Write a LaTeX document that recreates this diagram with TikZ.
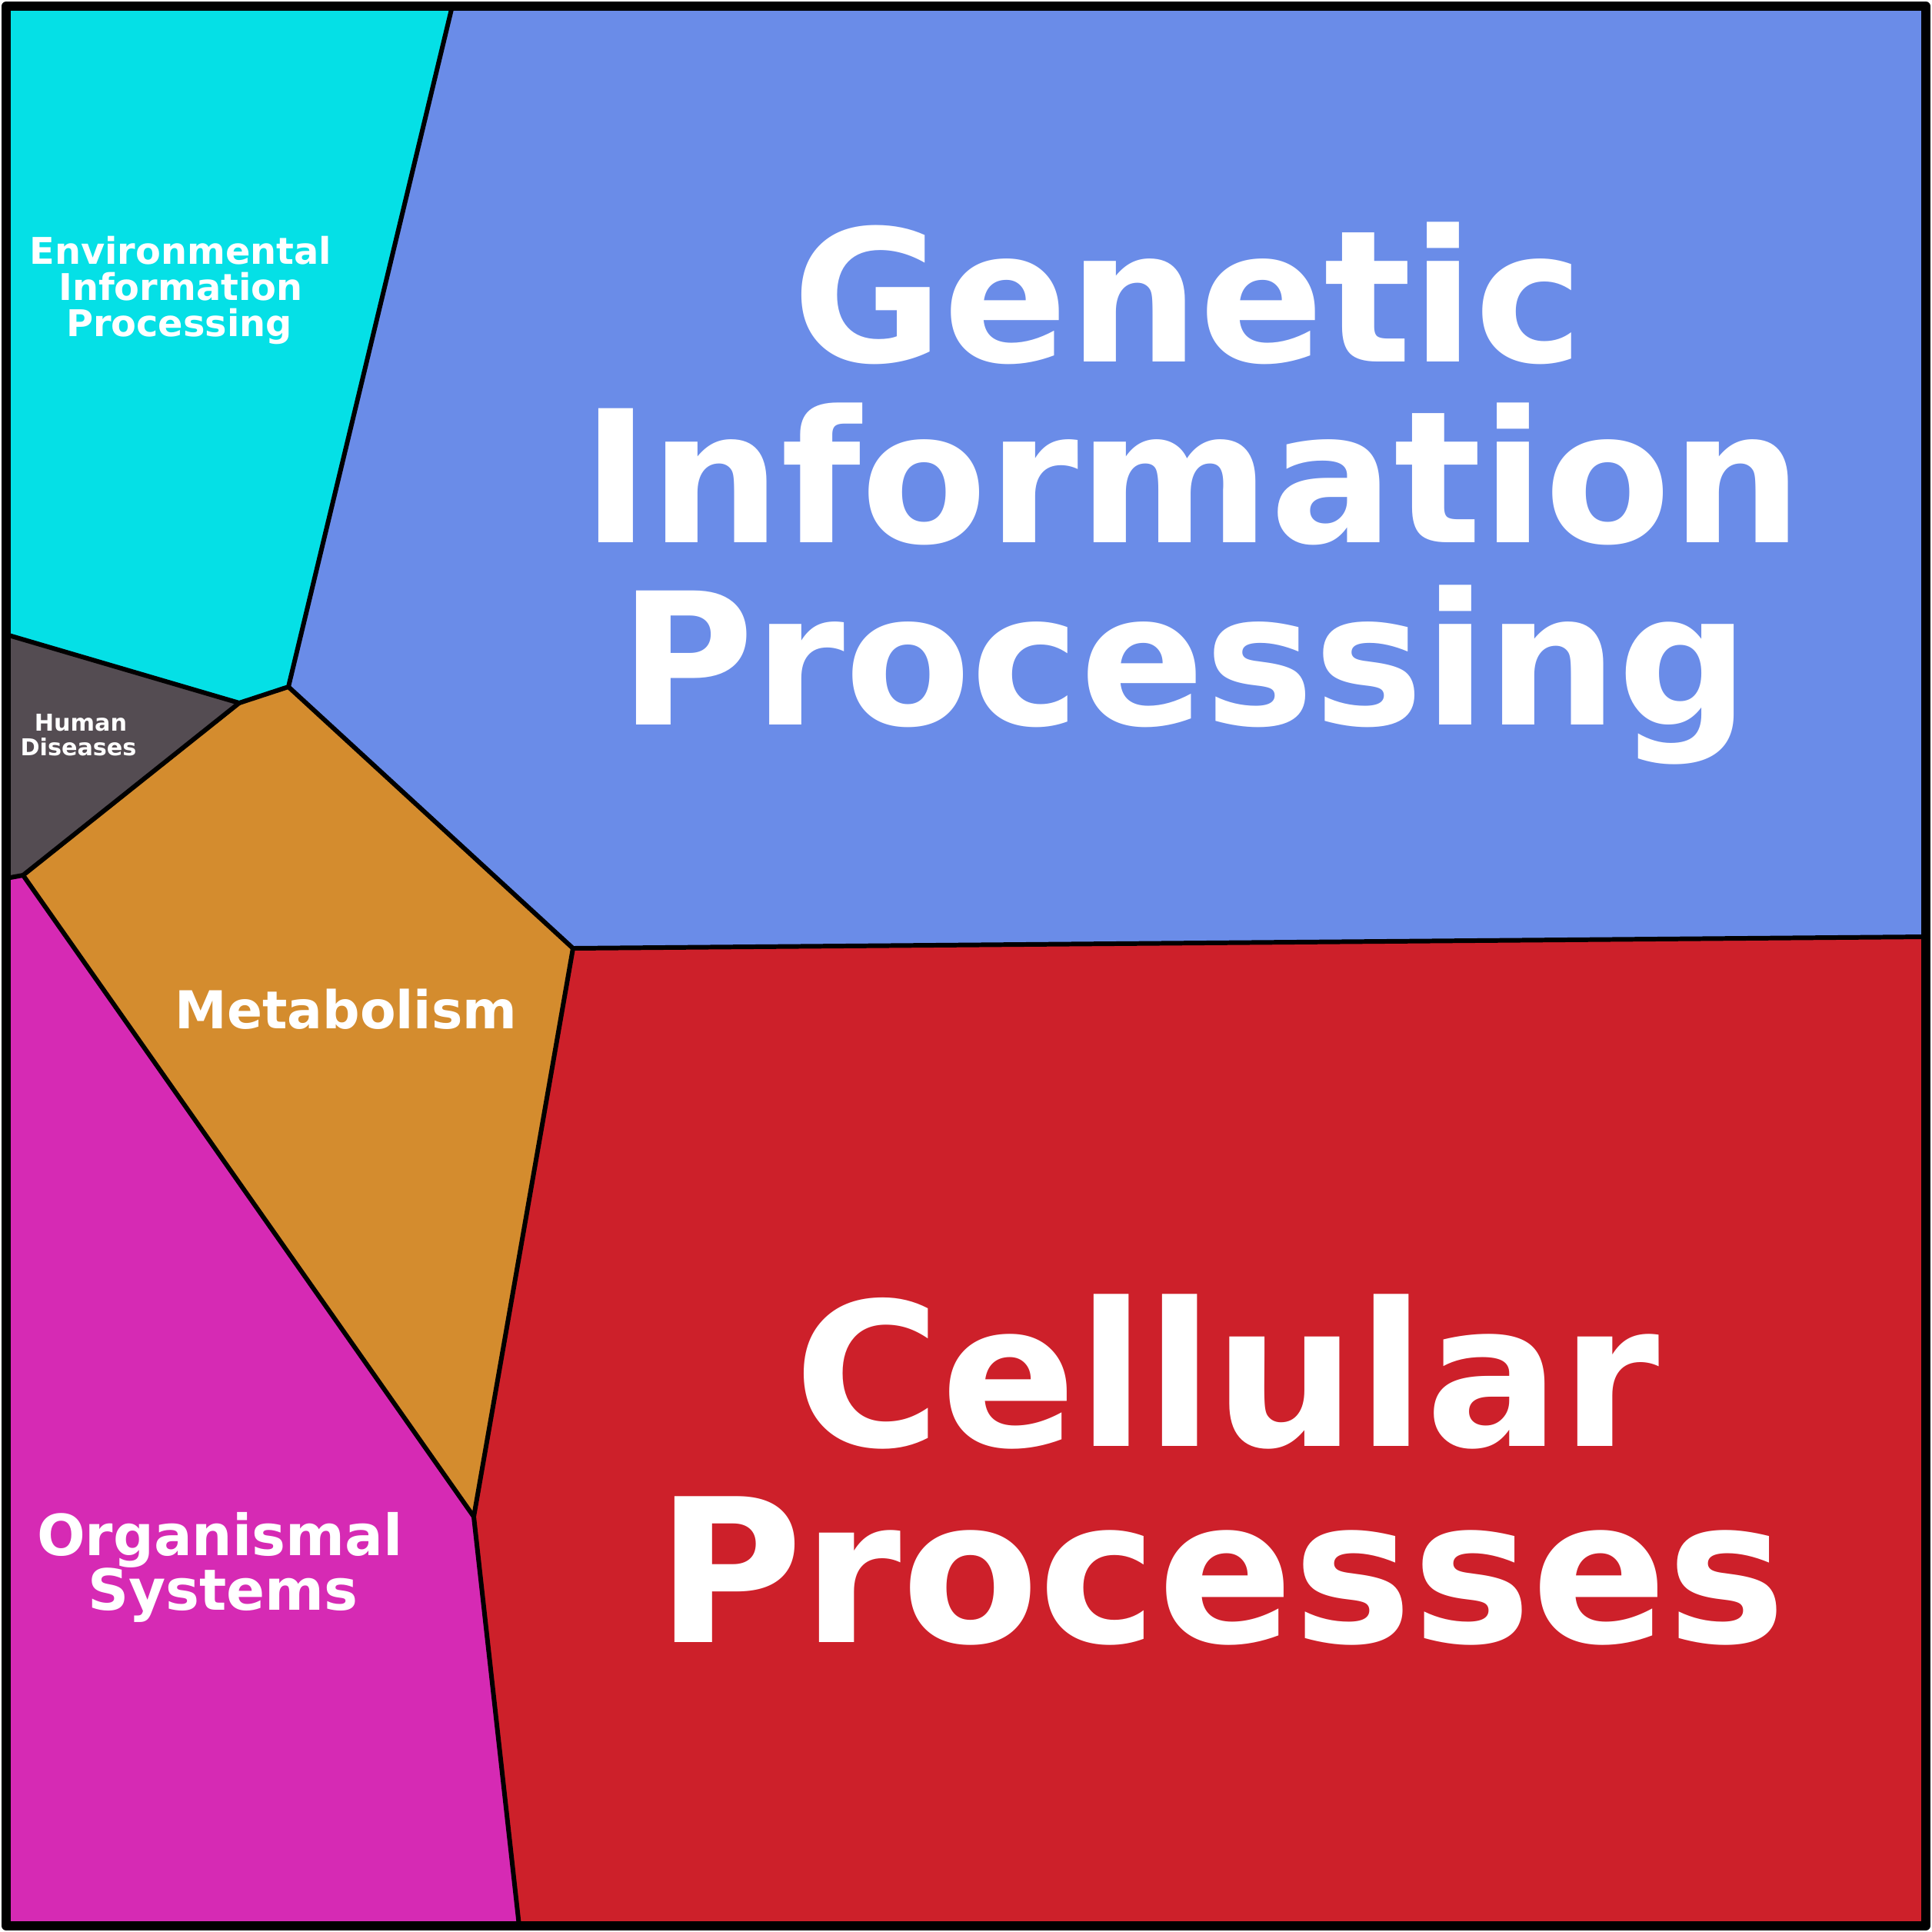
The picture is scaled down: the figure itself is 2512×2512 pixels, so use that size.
\documentclass[tikz,border=0pt]{standalone}
\usepackage{fontspec}
\setmainfont{DejaVu Sans}
\begin{document}
\begin{tikzpicture}[x=0.01cm,y=-0.01cm,line join=round,
  edge/.style={line width=1.7pt,black},
  lbl/.style={text=white,anchor=base,font=\bfseries,inner sep=0pt}]
\useasboundingbox (0,0) rectangle (2512,2512);
\definecolor{cy}{HTML}{05E0E6}\definecolor{bl}{HTML}{6A8CE8}
\definecolor{gr}{HTML}{544C52}\definecolor{orn}{HTML}{D48C2E}
\definecolor{rd}{HTML}{CD202A}\definecolor{mg}{HTML}{D62AB4}
\coordinate (A) at (588,8); \coordinate (B) at (375,893);
\coordinate (C) at (311,914); \coordinate (D) at (8,825);
\coordinate (E) at (30,1138); \coordinate (F) at (8,1142);
\coordinate (G) at (745,1233); \coordinate (H) at (2504,1218);
\coordinate (I) at (616,1972); \coordinate (J) at (675,2504);
\coordinate (TL) at (8,8); \coordinate (TR) at (2504,8);
\coordinate (BL) at (8,2504); \coordinate (BR) at (2504,2504);
\fill[cy] (TL)--(A)--(B)--(C)--(D)--cycle;
\fill[bl] (A)--(TR)--(H)--(G)--(B)--cycle;
\fill[gr] (D)--(C)--(E)--(F)--cycle;
\fill[orn] (B)--(G)--(I)--(E)--(C)--cycle;
\fill[rd] (G)--(H)--(BR)--(J)--(I)--cycle;
\fill[mg] (F)--(E)--(I)--(J)--(BL)--cycle;
\draw[edge] (A)--(B)--(C)--(D);
\draw[edge] (C)--(E)--(F);
\draw[edge] (B)--(G)--(H);
\draw[edge] (G)--(I)--(J);
\draw[edge] (I)--(E);
\draw[line width=3.4pt] (TL) rectangle (BR);
\node[lbl,font=\bfseries\fontsize{68}{68}\selectfont] (g1) at (1545,470) {Genetic};
\node[lbl,font=\bfseries\fontsize{68}{68}\selectfont] (g2) at (1550,705) {Information};
\node[lbl,font=\bfseries\fontsize{68}{68}\selectfont] (g3) at (1540,942) {Processing};
\node[lbl,font=\bfseries\fontsize{74}{74}\selectfont] (c1) at (1595,1880) {Cellular};
\node[lbl,font=\bfseries\fontsize{74}{74}\selectfont] (c2) at (1588,2135) {Processes};
\node[lbl,font=\bfseries\fontsize{13.6}{13.6}\selectfont] (e1) at (235,343) {Environmental};
\node[lbl,font=\bfseries\fontsize{13.6}{13.6}\selectfont] (e2) at (235,390) {Information};
\node[lbl,font=\bfseries\fontsize{13.6}{13.6}\selectfont] (e3) at (233,437) {Processing};
\node[lbl,font=\bfseries\fontsize{8.6}{8.6}\selectfont] (h1) at (105,950) {Human};
\node[lbl,font=\bfseries\fontsize{8.6}{8.6}\selectfont] (h2) at (102,982) {Diseases};
\node[lbl,font=\bfseries\fontsize{19.3}{19.3}\selectfont] (m1) at (450,1337) {Metabolism};
\node[lbl,font=\bfseries\fontsize{21}{21}\selectfont] (o1) at (286,2022) {Organismal};
\node[lbl,font=\bfseries\fontsize{21}{21}\selectfont] (o2) at (290,2093) {Systems};
\end{tikzpicture}
\end{document}
